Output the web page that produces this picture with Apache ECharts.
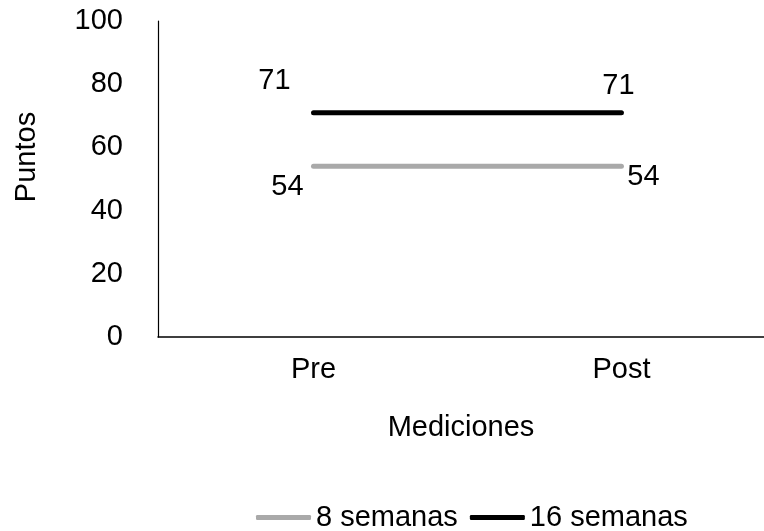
<!DOCTYPE html>
<html>
<head>
<meta charset="utf-8">
<style>
  html, body { margin: 0; padding: 0; background: #fff; }
  #chart { width: 764px; height: 531px; }
</style>
<script src="https://cdn.jsdelivr.net/npm/echarts@6/dist/echarts.min.js"></script>
</head>
<body>
<div id="chart"></div>
<script>
// Measurement moments on the x axis
const categories = ['Pre', 'Post'];
// Scores per group
const serie8 = [54, 54];
const serie16 = [71, 71];
const seriesNames = ['8 semanas', '16 semanas'];
// Value axis ticks
const yTicks = [0, 20, 40, 60, 80, 100];

const FONT = 'Liberation Sans, Arial, sans-serif';
const FS = 29;

// Label offsets around each point (centre of text relative to the point)
const off8 = [[-26, 21], [22, 11]];
const off16 = [[-39, -32], [-3, -27]];

// Categories are placed at positions 0, 1, ... on a numeric x axis whose
// extent runs half a slot to the left and past the right edge of the canvas.
const catIndex = categories.map((_, i) => i);

function withLabels(values, offsets) {
  return values.map((v, i) => ({
    value: [catIndex[i], v],
    label: { offset: offsets[i] }
  }));
}

const chart = echarts.init(document.getElementById('chart'), null, { renderer: 'canvas' });

const labelBase = {
  show: true,
  position: 'inside',
  color: '#000',
  fontFamily: FONT,
  fontSize: FS,
  formatter: p => String(p.value[1])
};

chart.setOption({
  animation: false,
  backgroundColor: '#fff',
  textStyle: { fontFamily: FONT, color: '#000' },
  grid: { left: 158, top: 21, right: 0, height: 316, containLabel: false },
  legend: {
    data: [
      { name: seriesNames[0], icon: 'roundRect', itemStyle: { color: '#a9a9a9' } },
      { name: seriesNames[1], icon: 'roundRect', itemStyle: { color: '#000' } }
    ],
    left: 256,
    top: 503,
    padding: 0,
    itemWidth: 55,
    itemHeight: 5,
    itemGap: 12,
    textStyle: { fontFamily: FONT, fontSize: FS, color: '#000' }
  },
  xAxis: {
    type: 'value',
    min: -0.505,
    max: 1.463,
    name: 'Mediciones',
    nameLocation: 'middle',
    nameGap: 76,
    nameTextStyle: { fontFamily: FONT, fontSize: FS, color: '#000' },
    axisLine: { show: true, onZero: false, lineStyle: { color: '#000', width: 1.5 } },
    axisTick: { show: false },
    axisLabel: {
      customValues: catIndex,
      formatter: v => categories[Math.round(v)] ?? '',
      fontFamily: FONT, fontSize: FS, color: '#000', margin: 18
    },
    splitLine: { show: false }
  },
  yAxis: {
    type: 'value',
    min: yTicks[0],
    max: yTicks[yTicks.length - 1],
    interval: yTicks[1] - yTicks[0],
    name: 'Puntos',
    nameLocation: 'middle',
    nameGap: 117,
    nameTextStyle: { fontFamily: FONT, fontSize: FS, color: '#000', padding: [0, 0, 0, 44] },
    axisLine: { show: true, onZero: false, lineStyle: { color: '#000', width: 1.2 } },
    axisTick: { show: false },
    axisLabel: { fontFamily: FONT, fontSize: FS, color: '#000', margin: 35 },
    splitLine: { show: false }
  },
  series: [
    {
      name: seriesNames[0],
      type: 'line',
      data: withLabels(serie8, off8),
      symbol: 'circle',
      symbolSize: 0.1,
      itemStyle: { color: '#a9a9a9' },
      lineStyle: { color: '#a9a9a9', width: 5, cap: 'round' },
      label: labelBase
    },
    {
      name: seriesNames[1],
      type: 'line',
      data: withLabels(serie16, off16),
      symbol: 'circle',
      symbolSize: 0.1,
      itemStyle: { color: '#000' },
      lineStyle: { color: '#000', width: 5, cap: 'round' },
      label: labelBase
    }
  ]
});
</script>
</body>
</html>
